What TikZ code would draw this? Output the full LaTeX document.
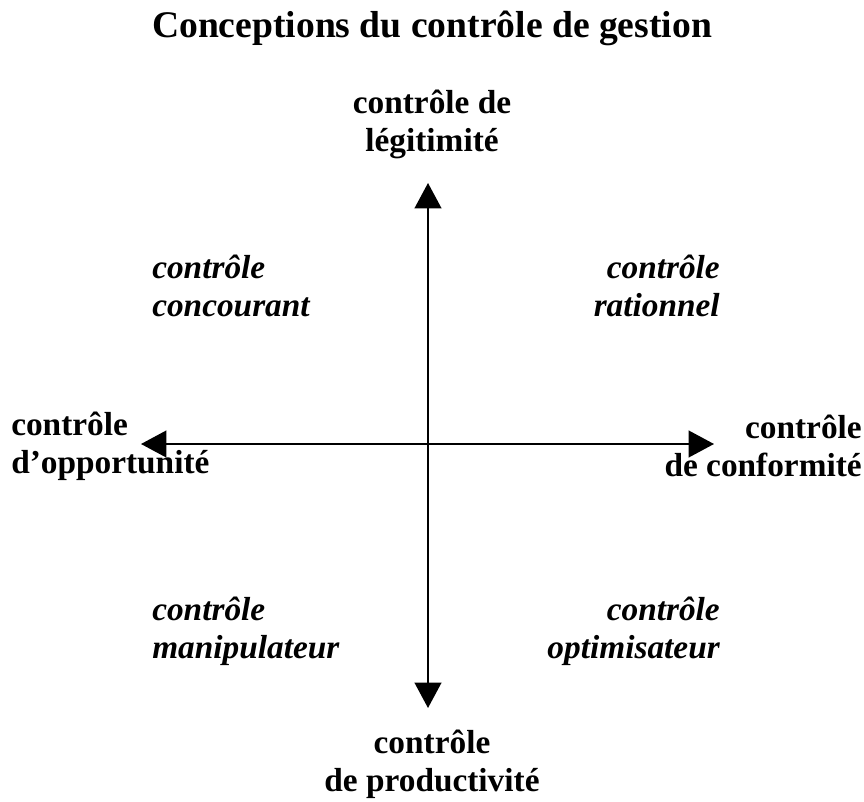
\documentclass[tikz,border=0pt]{standalone}
\usepackage{fontspec}
\setmainfont{Liberation Serif}
\usetikzlibrary{arrows.meta}
\begin{document}
\begin{tikzpicture}[x=0.75pt,y=-0.75pt,every node/.style={inner sep=0pt,font=\fontsize{25}{28.5}\selectfont\bfseries}]
    \useasboundingbox (0,0) rectangle (864,802);
    \node (title) 	at (432,28) {\fontsize{28.2}{32}\selectfont Conceptions du contrôle de gestion};
    \node[align=center] (legit) 	at (432,124) {contrôle de\\légitimité};
    \node[align=center] (produc) 	at (432,764) {contrôle\\de productivité};
    \node[align=left,anchor=west] (opport) 	at (11,446) {contrôle\\d’opportunité};
    \node[align=right,anchor=east] (conform) 	at (862,446) {contrôle\\de conformité};
    \node[align=left,anchor=west,font=\fontsize{25}{28.5}\selectfont\bfseries\itshape] (concour)	at (152,286) {contrôle\\concourant};
    \node[align=right,anchor=east,font=\fontsize{25}{28.5}\selectfont\bfseries\itshape] (ration)	at (720,286) {contrôle\\rationnel};
    \node[align=left,anchor=west,font=\fontsize{25}{28.5}\selectfont\bfseries\itshape] (manip)	at (152,631) {contrôle\\manipulateur};
    \node[align=right,anchor=east,font=\fontsize{25}{28.5}\selectfont\bfseries\itshape] (optim)	at (720,631) {contrôle\\optimisateur};

    \coordinate (o) at (428,444);
    \coordinate (n) at (428,183);
    \coordinate (s) at (428,708);
    \coordinate (w) at (141,444);
    \coordinate (e) at (714,444);
    \foreach \from/\to in
      {o/n,o/s,o/w,o/e}
    \draw[line width=1.5pt,-{Triangle[length=19pt,width=20pt]}] (\from) -- (\to);
  \end{tikzpicture}
\end{document}
